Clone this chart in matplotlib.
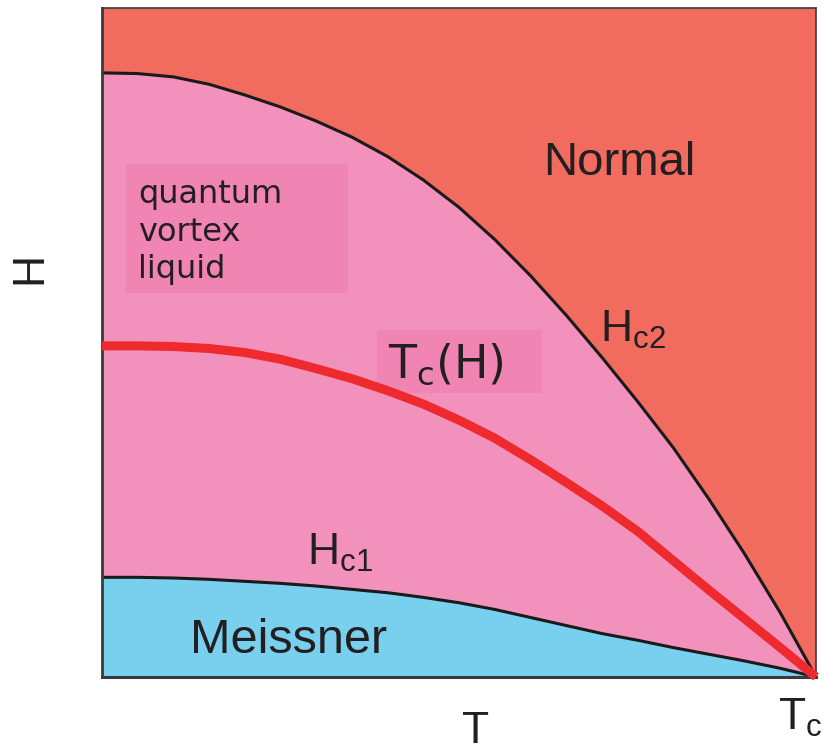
import matplotlib
matplotlib.use('Agg')
import matplotlib.pyplot as plt
from matplotlib.patches import Rectangle

plt.rcParams['mathtext.fontset'] = 'custom'
plt.rcParams['mathtext.rm'] = 'Liberation Sans'
plt.rcParams['mathtext.it'] = 'Liberation Sans:italic'

# Phase boundaries (T/Tc, H/Hmax)
t_grid = [0.0, 0.05, 0.1, 0.15, 0.2, 0.25, 0.3, 0.35, 0.4, 0.45, 0.5,
          0.55, 0.6, 0.65, 0.7, 0.75, 0.8, 0.85, 0.9, 0.95, 1.0]
h_hc2 = [0.903, 0.902, 0.897, 0.886, 0.870, 0.852, 0.831, 0.807, 0.778, 0.743, 0.702,
         0.654, 0.600, 0.541, 0.478, 0.412, 0.343, 0.266, 0.184, 0.096, 0.0]
h_tch = [0.495, 0.495, 0.494, 0.491, 0.485, 0.475, 0.461, 0.446, 0.428, 0.408, 0.384,
         0.357, 0.325, 0.291, 0.256, 0.218, 0.174, 0.130, 0.087, 0.044, 0.0]
h_hc1 = [0.149, 0.149, 0.148, 0.146, 0.143, 0.140, 0.136, 0.131, 0.126, 0.119, 0.111,
         0.101, 0.089, 0.077, 0.065, 0.055, 0.044, 0.034, 0.024, 0.013, 0.0]

c_normal = '#F16B5F'
c_pink = '#F292BC'
c_blue = '#78D0EE'
c_box = '#F084B3'
c_red = '#EE2A2F'
c_text = '#231F20'

fig = plt.figure(figsize=(8.26, 7.53), dpi=100)
ax = fig.add_axes([102/826, 76/753, 714/826, 669/753])
ax.set_xlim(0, 1)
ax.set_ylim(0, 1)
ax.set_facecolor(c_normal)

ax.fill_between(t_grid, 0, h_hc2, color=c_pink, lw=0)
ax.fill_between(t_grid, 0, h_hc1, color=c_blue, lw=0)
ax.plot(t_grid, h_hc2, color='#1a1a1a', lw=2.2)
ax.plot(t_grid, h_hc1, color='#1a1a1a', lw=2.2)

# label boxes
ax.add_patch(Rectangle((0.0336, 0.574), 0.311, 0.193, color=c_box, lw=0))
ax.add_patch(Rectangle((0.385, 0.4245), 0.231, 0.094, color=c_box, lw=0))

ax.plot(t_grid, h_tch, color=c_red, lw=6.5, clip_on=False, solid_capstyle='butt', zorder=5)

sans = 'Liberation Sans'
ax.text(0.6176, 0.750, 'Normal', fontsize=34, family=sans, color=c_text, va='baseline')
ax.text(0.6975, 0.5007, r'H$_\mathrm{c2}$', fontsize=32, family=sans, color=c_text, va='baseline')
ax.text(0.287, 0.1674, r'H$_\mathrm{c1}$', fontsize=32, family=sans, color=c_text, va='baseline')
ax.text(0.123, 0.0359, 'Meissner', fontsize=35, family=sans, color=c_text, va='baseline')
ax.text(0.0504, 0.596, 'quantum\nvortex\nliquid', fontsize=23, family='DejaVu Sans',
        color=c_text, va='baseline', linespacing=1.28)
ax.text(0.4006, 0.447, r'T$_\mathrm{c}$(H)', fontsize=33, family='DejaVu Sans',
        math_fontfamily='dejavusans', color=c_text, va='baseline')

for s in ax.spines.values():
    s.set_color('#3a3a3a')
    s.set_linewidth(1.2)
ax.spines['left'].set_linewidth(2)
ax.spines['bottom'].set_linewidth(2.2)
ax.set_xticks([])
ax.set_yticks([])

fig.text(476/826, 10/753, 'T', fontsize=32, family=sans, color=c_text, ha='center', va='baseline')
fig.text(778/826, 23/753, r'T$_\mathrm{c}$', fontsize=32, family=sans, color=c_text, va='baseline')
fig.text(30/826, 1 - 268/753, 'H', fontsize=32, family=sans, color=c_text, rotation=90,
         ha='center', va='center')

fig.savefig('out.png', dpi=100)
